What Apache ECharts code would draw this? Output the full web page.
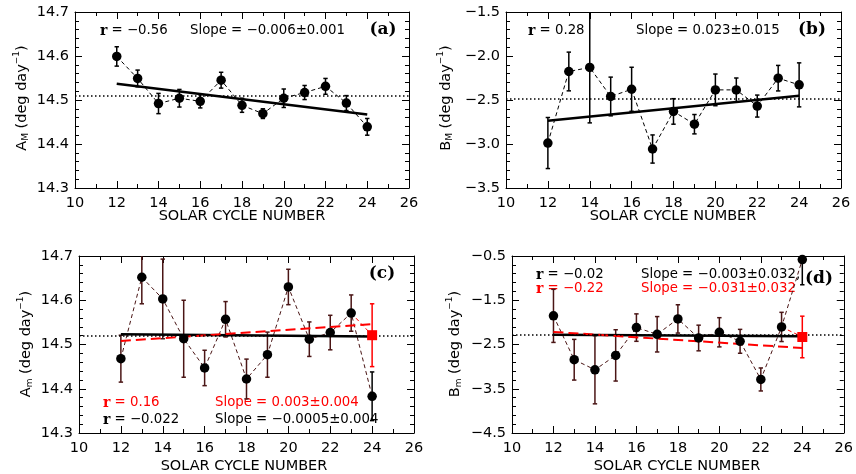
<!DOCTYPE html>
<html><head><meta charset="utf-8">
<script src="https://cdn.jsdelivr.net/npm/echarts@6/dist/echarts.min.js"></script>
<style>html,body{margin:0;padding:0;background:#fff}#c{width:856px;height:474px}</style>
</head><body><div id="c"></div>
<script>
// ---------------- data ----------------
const cycles = [12, 13, 14, 15, 16, 17, 18, 19, 20, 21, 22, 23, 24];
const xTicks = [10, 12, 14, 16, 18, 20, 22, 24, 26];

// (a) A_M
const aM    = [14.599, 14.549, 14.492, 14.504, 14.497, 14.545, 14.488, 14.469, 14.504, 14.517, 14.531, 14.493, 14.439];
const aMErr = [0.022, 0.019, 0.023, 0.020, 0.015, 0.018, 0.016, 0.011, 0.021, 0.016, 0.018, 0.017, 0.019];
const aMFit = [14.537, 14.467];
const aMMean = 14.508;

// (b) B_M
const bM    = [-2.989, -2.176, -2.130, -2.460, -2.378, -3.057, -2.630, -2.775, -2.385, -2.385, -2.569, -2.252, -2.328];
const bMErr = [0.29, 0.22, 0.63, 0.22, 0.25, 0.16, 0.145, 0.11, 0.18, 0.135, 0.125, 0.145, 0.25];
const bMFit = [-2.735, -2.451];
const bMMean = -2.49;

// (c) A_m
const am    = [14.468, 14.652, 14.603, 14.513, 14.447, 14.557, 14.422, 14.477, 14.630, 14.512, 14.527, 14.571, 14.383];
const amErr = [0.053, 0.060, 0.090, 0.087, 0.040, 0.040, 0.045, 0.051, 0.040, 0.039, 0.039, 0.041, 0.055];
const am24Red = 14.521, am24RedErr = 0.071;
const amFitBlack = [14.523, 14.518];
const amFitRed = [14.508, 14.546];
const amMean = 14.519;

// (d) B_m
const bm    = [-1.853, -2.844, -3.071, -2.746, -2.118, -2.269, -1.922, -2.353, -2.224, -2.428, -3.290, -2.103, -0.580];
const bmErr = [0.60, 0.46, 0.77, 0.58, 0.31, 0.40, 0.32, 0.29, 0.33, 0.27, 0.26, 0.33, 0.57];
const bm24Red = -2.33, bm24RedErr = 0.47;
const bmFitBlack = [-2.277, -2.315];
const bmFitRed = [-2.216, -2.579];
const bmMean = -2.292;
const dYTicks = ['−4.5', '−3.5', '−2.5', '−1.5', '−0.5'];

// ---------------- helpers ----------------
const FONT = 'DejaVu Sans';
const fmt = v => (Math.round(v * 10) / 10).toFixed(1).replace('-', '−');
const grids = [
  {left: 75, top: 12, width: 334, height: 176},
  {left: 506, top: 12, width: 335, height: 176},
  {left: 79, top: 256, width: 335, height: 177},
  {left: 512, top: 256, width: 333, height: 177}
];
const blk = '#000';
function baseAxis(extra) {
  return Object.assign({
    type: 'value',
    axisLine: {show: true, onZero: false, lineStyle: {color: blk, width: 1}},
    axisTick: {show: true, inside: true, length: 7, lineStyle: {color: blk, width: 1}},
    minorTick: {show: true, inside: true, length: 4, lineStyle: {color: blk, width: 1}},
    splitLine: {show: false}, minorSplitLine: {show: false},
    axisLabel: {show: false}
  }, extra);
}
const xAxes = [], yAxes = [];
grids.forEach((g, gi) => {
  xAxes.push(baseAxis({gridIndex: gi, position: 'bottom', min: xTicks[0], max: xTicks[xTicks.length - 1], interval: 2,
    minorTick: {show: true, splitNumber: 2, length: 4, lineStyle: {color: blk}},
    axisLabel: {show: true, margin: 8, fontSize: 14.5, fontFamily: FONT, color: blk, showMinLabel: true, showMaxLabel: true}}));
  xAxes.push(baseAxis({gridIndex: gi, position: 'top', min: xTicks[0], max: xTicks[xTicks.length - 1], interval: 2,
    minorTick: {show: true, splitNumber: 2, length: 4, lineStyle: {color: blk}}}));
});
function yPair(gi, min, max, interval, formatter) {
  const lab = {show: true, margin: 6, fontSize: 14.5, fontFamily: FONT, color: blk, formatter, showMinLabel: true, showMaxLabel: true};
  yAxes.push(baseAxis({gridIndex: gi, position: 'left', min, max, interval,
    minorTick: {show: true, splitNumber: 5, length: 4, lineStyle: {color: blk}}, axisLabel: lab}));
  yAxes.push(baseAxis({gridIndex: gi, position: 'right', min, max, interval,
    minorTick: {show: true, splitNumber: 5, length: 4, lineStyle: {color: blk}}}));
}
yPair(0, 14.3, 14.7, 0.1, fmt);   // 0,1
yPair(1, -3.5, -1.5, 0.5, fmt);   // 2,3
yPair(2, 14.3, 14.7, 0.1, fmt);   // 4,5
yPair(3, 0, 4, 1, (v) => dYTicks[Math.round(v)]); // 6,7 label axes for (d)
yAxes.push({type: 'value', gridIndex: 3, min: -4.5, max: -0.5, show: false}); // 8 data axis for (d)

function errSeries(xi, yi, xs, ys, errs, color, z) {
  return {
    type: 'custom', xAxisIndex: xi, yAxisIndex: yi, clip: true, z: z || 3, silent: true,
    data: xs.map((x, i) => [x, ys[i] - errs[i], ys[i] + errs[i]]),
    renderItem(params, api) {
      const lo = api.coord([api.value(0), api.value(1)]);
      const hi = api.coord([api.value(0), api.value(2)]);
      const hw = 2.2;
      const st = {stroke: color, lineWidth: 1.5};
      return {type: 'group', children: [
        {type: 'line', shape: {x1: lo[0], y1: lo[1], x2: hi[0], y2: hi[1]}, style: st},
        {type: 'line', shape: {x1: lo[0] - hw, y1: lo[1], x2: lo[0] + hw, y2: lo[1]}, style: st},
        {type: 'line', shape: {x1: hi[0] - hw, y1: hi[1], x2: hi[0] + hw, y2: hi[1]}, style: st}
      ]};
    }
  };
}
const pairs = (xs, ys) => xs.map((x, i) => [x, ys[i]]);
function dashLine(xi, yi, xs, ys, color, z) {
  return {type: 'line', xAxisIndex: xi, yAxisIndex: yi, data: pairs(xs, ys), symbol: 'none', silent: true, z: z || 2,
    lineStyle: {color, width: 1, type: [4, 3]}};
}
function fitLine(xi, yi, fit, color, dashed, mean) {
  const s = {type: 'line', xAxisIndex: xi, yAxisIndex: yi, data: [[cycles[0], fit[0]], [cycles[cycles.length - 1], fit[1]]],
    symbol: 'none', silent: true, z: 4,
    lineStyle: dashed ? {color, width: 2, type: [10, 5]} : {color, width: 2.5}};
  if (mean !== undefined) {
    s.markLine = {symbol: ['none', 'none'], silent: true, label: {show: false}, animation: false,
      lineStyle: {color: blk, width: 1.5, type: [1.5, 2.5]}, data: [{yAxis: mean}]};
  }
  return s;
}
function points(xi, yi, xs, ys, color, symbol, size) {
  return {type: 'scatter', xAxisIndex: xi, yAxisIndex: yi, data: pairs(xs, ys), symbol: symbol || 'circle',
    symbolSize: size || 9.5, itemStyle: {color, opacity: 1}, z: 5, silent: true};
}

const BROWN = '#4a1515';
const RED = '#ff0000';
const c12_23 = cycles.slice(0, 12);
const series = [
  // (a)
  fitLine(0, 0, aMFit, blk, false, aMMean),
  dashLine(0, 0, cycles, aM, blk),
  errSeries(0, 0, cycles, aM, aMErr, blk),
  points(0, 0, cycles, aM, blk),
  // (b)
  fitLine(2, 2, bMFit, blk, false, bMMean),
  dashLine(2, 2, cycles, bM, blk),
  errSeries(2, 2, cycles, bM, bMErr, blk),
  points(2, 2, cycles, bM, blk),
  // (c)
  fitLine(4, 4, amFitBlack, blk, false, amMean),
  fitLine(4, 4, amFitRed, RED, true),
  dashLine(4, 4, [23, 24], [am[11], am24Red], RED, 2),
  dashLine(4, 4, cycles, am, BROWN, 3),
  errSeries(4, 4, c12_23, am.slice(0, 12), amErr.slice(0, 12), BROWN),
  errSeries(4, 4, [24], [am[12]], [amErr[12]], blk),
  errSeries(4, 4, [24], [am24Red], [am24RedErr], RED),
  points(4, 4, cycles, am, blk),
  points(4, 4, [24], [am24Red], RED, 'rect', 10),
  // (d)
  fitLine(6, 8, bmFitBlack, blk, false, bmMean),
  fitLine(6, 8, bmFitRed, RED, true),
  dashLine(6, 8, [23, 24], [bm[11], bm24Red], RED, 2),
  dashLine(6, 8, cycles, bm, BROWN, 3),
  errSeries(6, 8, c12_23, bm.slice(0, 12), bmErr.slice(0, 12), BROWN),
  errSeries(6, 8, [24], [bm[12]], [bmErr[12]], blk),
  errSeries(6, 8, [24], [bm24Red], [bm24RedErr], RED),
  points(6, 8, cycles, bm, blk),
  points(6, 8, [24], [bm24Red], RED, 'rect', 10)
];

// ---------------- text ----------------
function txt(x, y, text, color, opts) {
  const st = Object.assign({text, x, y, fill: color || blk, fontFamily: FONT, fontSize: 13,
    align: 'left', verticalAlign: 'middle', textAlign: 'left', textVerticalAlign: 'middle'}, opts || {});
  return {type: 'text', silent: true, style: st};
}
function rtxt(x, y, value, color) {
  const rich = {
    r: {fontFamily: 'DejaVu Serif', fontWeight: 'bold', fontSize: 14, fill: color, color},
    n: {fontFamily: FONT, fontSize: 13.3, fill: color, color}
  };
  return txt(x, y, '{r|r}{n| = ' + value + '}', color, {rich});
}
function slope(x, y, s, color) { return txt(x, y, 'Slope = ' + s, color, {fontSize: 13.3}); }
function label(x, y, s) {
  return txt(x, y, s, blk, {fontFamily: 'DejaVu Serif', fontWeight: 'bold', fontSize: 17, align: 'center', textAlign: 'center'});
}
function xTitle(x, y) {
  return txt(x, y, 'SOLAR CYCLE NUMBER', blk, {fontSize: 14.5, align: 'center', textAlign: 'center'});
}
function yTitle(x, y, main, sub) {
  const rich = {
    m: {fontFamily: FONT, fontSize: 14.5, fill: blk},
    s: {fontFamily: FONT, fontSize: 9, fill: blk, padding: [8, 0, 0, 0]},
    p: {fontFamily: FONT, fontSize: 9, fill: blk, padding: [0, 0, 10, 0]}
  };
  const t = txt(0, 0, '{m|' + main + '}{s|' + sub + '}{m| (deg day}{p|−1}{m|)}', blk,
    {rich, align: 'center', textAlign: 'center'});
  t.x = x; t.y = y; t.rotation = Math.PI / 2;
  return t;
}
const graphics = [
  // (a)
  rtxt(100, 31, '−0.56', blk), slope(190, 31, '−0.006±0.001', blk), label(383, 30, '(a)'),
  // (b)
  rtxt(528, 31, '0.28', blk), slope(636, 31, '0.023±0.015', blk), label(812, 30, '(b)'),
  // (c)
  label(382, 274, '(c)'),
  rtxt(103, 403, '0.16', RED), slope(215, 403, '0.003±0.004', RED),
  rtxt(103, 420, '−0.022', blk), slope(215, 420, '−0.0005±0.004', blk),
  // (d)
  rtxt(536, 275, '−0.02', blk), slope(641, 275, '−0.003±0.032,', blk), label(819, 279, '(d)'),
  rtxt(536, 289, '−0.22', RED), slope(641, 289, '−0.031±0.032', RED),
  // axis titles
  xTitle(242, 216), xTitle(673, 216), xTitle(244, 466), xTitle(677, 466),
  yTitle(22, 98, 'A', 'M'), yTitle(446, 98, 'B', 'M'), yTitle(26, 344, 'A', 'm'), yTitle(455, 344, 'B', 'm')
];

const chart = echarts.init(document.getElementById('c'), null, {renderer: 'canvas'});
chart.setOption({
  animation: false,
  backgroundColor: '#fff',
  grid: grids,
  xAxis: xAxes,
  yAxis: yAxes,
  series,
  graphic: {elements: graphics}
});
</script>
</body></html>
